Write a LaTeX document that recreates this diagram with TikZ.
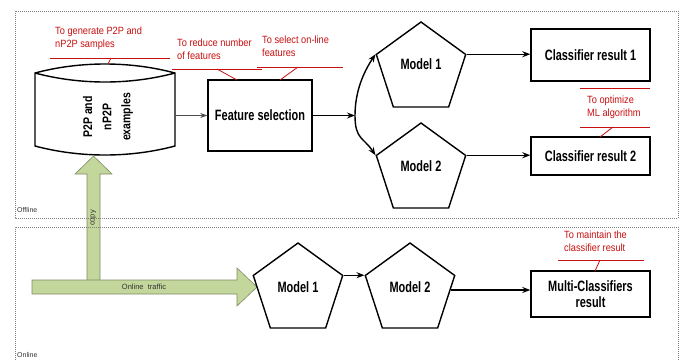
\documentclass[tikz,border=0pt]{standalone}
\usepackage{fontspec}
\setmainfont{Liberation Sans}
\newfontfamily\boldnarrow[FakeStretch=0.73]{Liberation Sans}
\newfontfamily\rednarrow[FakeStretch=0.88]{Liberation Sans}
\usetikzlibrary{arrows.meta,shapes.geometric}
\definecolor{annred}{RGB}{200,16,16}
\definecolor{arrowgreen}{RGB}{195,214,155}
\definecolor{arrowedge}{RGB}{128,140,100}
\tikzset{
  boxnode/.style={draw, line width=1.4pt, fill=white, inner sep=0, font=\boldnarrow\bfseries\fontsize{15}{16.5}\selectfont, align=center},
  pent/.style={draw, line width=1.4pt, fill=white, regular polygon, regular polygon sides=5, minimum size=94pt, inner sep=0},
  pentlabel/.style={font=\boldnarrow\bfseries\fontsize{15}{16}\selectfont, inner sep=0},
  ann/.style={font=\rednarrow\fontsize{10.5}{13}\selectfont, text=annred, align=left, inner sep=0, anchor=west},
  annline/.style={color=annred, line width=0.8pt},
  flow/.style={line width=1.4pt, -{Stealth[length=8pt,width=6pt]}},
  region/.style={draw=gray, line width=0.8pt, dash pattern=on 1pt off 1pt},
  regionlabel/.style={font=\fontsize{7}{8}\selectfont, text=black!80, inner sep=0, anchor=west},
  greenarrow/.style={fill=arrowgreen, draw=arrowedge, line width=0.6pt},
  arrowlabel/.style={font=\fontsize{7.5}{8}\selectfont, text=black!80, inner sep=0},
}
\begin{document}
\begin{tikzpicture}[x=1pt,y=-1pt]
\useasboundingbox (0,0) rectangle (684,360);

% green block arrows
\draw[greenarrow] (87,281) -- (87,174) -- (75,174) -- (93.5,156) -- (112,174) -- (100,174) -- (100,281) -- cycle;
\draw[greenarrow] (32,280) -- (237,280) -- (237,268) -- (257,287) -- (237,306) -- (237,294) -- (32,294) -- cycle;
\node[arrowlabel, rotate=90] (copylbl) at (93.5,218) {copy};
\node[arrowlabel] (trafficlbl) at (144,287) {Online\ \ traffic};

% regions
\draw[region] (15,11) rectangle (678,218);
\draw[region] (15,362) -- (15,227) -- (678,227) -- (678,362);
\node[regionlabel] (offlbl) at (17,210) {Offline};
\node[regionlabel] (onlbl) at (17,355) {Online};

% database cylinder
\draw[line width=1.4pt, fill=white] (35,73) .. controls (80,61) and (130,61) .. (175,73) -- (175,146) .. controls (130,158) and (80,158) .. (35,146) -- cycle;
\draw[line width=1.4pt] (35,73) .. controls (80,85) and (130,85) .. (175,73);
\coordinate (dbE) at (175,115.5);
\coordinate (dbTop) at (108,64);
\node[font=\bfseries\fontsize{10.5}{16}\selectfont, align=center, inner sep=0, rotate=90, yscale=1.2] (dbtext) at (108,117) {P2P and\\nP2P\\examples};

% offline nodes
\node[boxnode, minimum width=104pt, minimum height=71pt] (fs) at (260,115.5) {Feature selection};
\coordinate (br) at (355,115.5);
\node[pent] (m1) at (421,69) {};
\node[pentlabel] (m1t) at (421,64) {Model 1};
\node[pent] (m2) at (421,170) {};
\node[pentlabel] (m2t) at (421,166) {Model 2};
\node[boxnode, minimum width=119pt, minimum height=52pt] (cr1) at (590.5,55) {Classifier result 1};
\node[boxnode, minimum width=119pt, minimum height=38pt] (cr2) at (590.5,156) {Classifier result 2};

\draw[line width=1pt, draw=black!70, -{Stealth[length=7pt,width=5pt]}] (dbE) -- (dbE -| fs.west);
\draw[flow] (fs.east) -- (br);
\draw[flow] (br) .. controls +(0,-24) and +(-12,18) .. (m1.corner 2);
\draw[flow] (br) .. controls +(0,24) and +(-12,-18) .. (m2.corner 2);
\draw[flow] (m1.corner 5) -- (m1.corner 5 -| cr1.west);
\draw[flow] (m2.corner 5) -- (m2.corner 5 -| cr2.west);

% online nodes
\node[pent] (om1) at (298,290) {};
\node[pentlabel] (om1t) at (298,287) {Model 1};
\node[pent] (om2) at (410,290) {};
\node[pentlabel] (om2t) at (410,287) {Model 2};
\node[boxnode, minimum width=119pt, minimum height=46pt] (mcr) at (590.5,294) {Multi-Classifiers\\result};
\draw[flow] (om1.corner 5) -- (om2.corner 2);
\draw[flow] (om2.east) -- (om2.east -| mcr.west);

% annotations
\node[ann] (a1) at (55,38.5) {To generate P2P and\\nP2P samples};
\draw[annline] (50,58) -- (170,58);
\draw[annline] (111,58) -- (dbTop);

\node[ann] (a2) at (177,49.5) {To reduce number\\of features};
\draw[annline] (172,69) -- (262,69);
\draw[annline] (217,69) -- (237,80);

\node[ann] (a3) at (262,46.5) {To select on-line\\features};
\draw[annline] (257,67) -- (343,67);
\draw[annline] (298,67) -- (280,80);

\node[ann] (a4) at (587,107) {To optimize\\ML algorithm};
\draw[annline] (580,88) -- (650,88);
\draw[annline] (580,127) -- (650,127);
\draw[annline] (613,127) -- (600,137);

\node[ann] (a5) at (564,241) {To maintain the\\classifier result};
\draw[annline] (558,260) -- (644,260);
\draw[annline] (600,260) -- (595,271);
\end{tikzpicture}
\end{document}
